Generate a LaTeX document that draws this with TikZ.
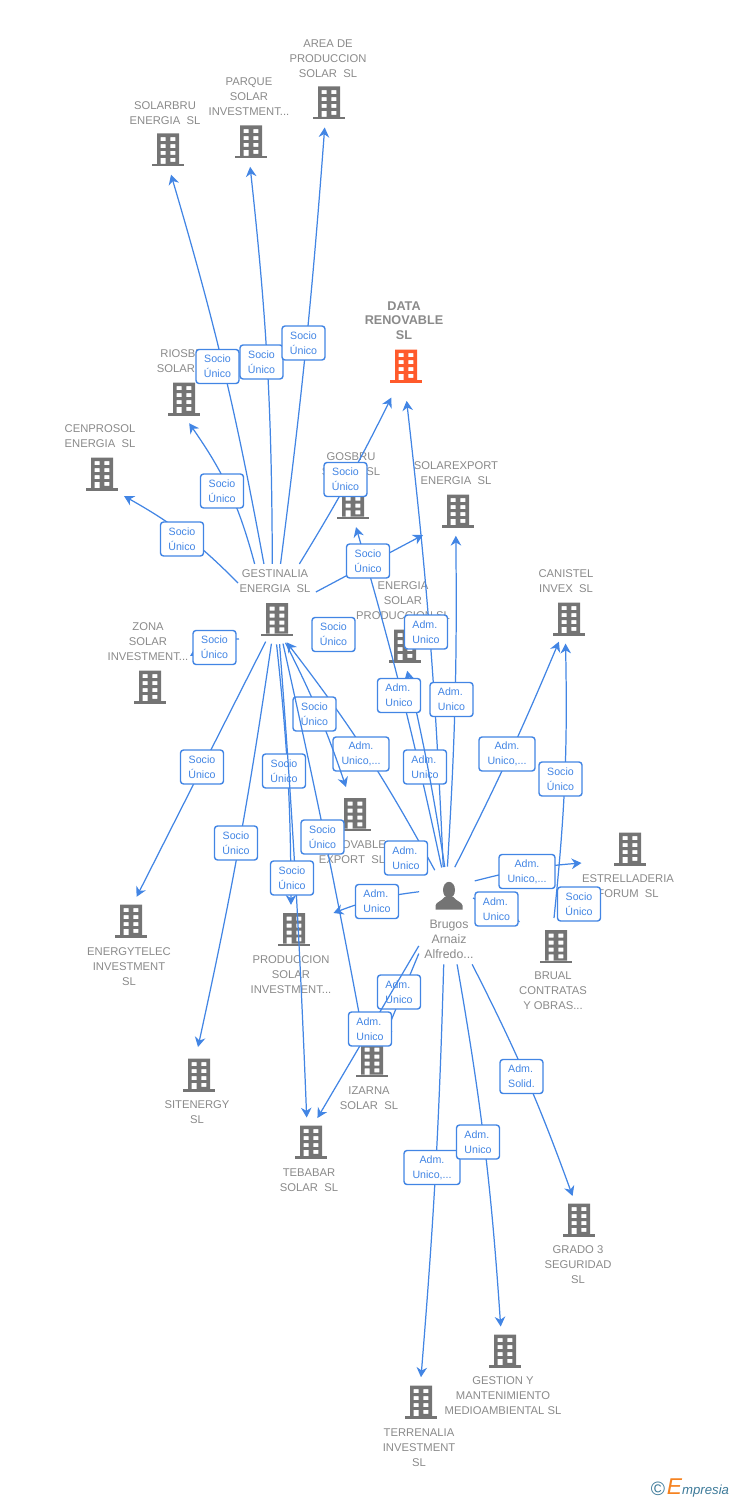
\documentclass[tikz,border=0pt]{standalone}
\usepackage{fontspec}
\setmainfont{Liberation Sans}
\usetikzlibrary{arrows.meta}
\definecolor{linkblue}{HTML}{4285E4}
\definecolor{iconcol}{HTML}{747474}
\definecolor{maincol}{HTML}{FF5A2B}
\definecolor{textcol}{HTML}{8A8A8A}
\definecolor{logoblue}{HTML}{3D7A99}
\definecolor{logoorange}{HTML}{F58220}
\newcommand{\bldgicon}[1]{%
    \begin{scope}[shift={(path picture bounding box.center)}]
    \fill[#1,even odd rule] (-11,-16.5) rectangle (11,14)
        (-7.5,-12.8) rectangle (-2.5,-8.8) (2.3,-12.8) rectangle (7.3,-8.8)
        (-7.5,-5.8) rectangle (-2.5,-1.8) (2.3,-5.8) rectangle (7.3,-1.8)
        (-7.5,1) rectangle (-2.5,5) (2.3,1) rectangle (7.3,5)
        (-7.5,7.8) rectangle (-2.5,14) (2.3,7.8) rectangle (7.3,11.8);
    \fill[#1] (-16,14) rectangle (16,16.5);
    \end{scope}}
\newcommand{\personicon}{%
    \begin{scope}[shift={(path picture bounding box.center)}]
    \fill[iconcol] (0,-7) ellipse (6 and 8.2);
    \fill[iconcol] (-13.5,12.5) -- (13.5,12.5) -- (13.5,8.5) .. controls (13,5) and (7,4) .. (4.5,0)
        -- (-4.5,0) .. controls (-7,4) and (-13,5) .. (-13.5,8.5) -- cycle;
    \end{scope}}
\tikzset{
    bldg/.style={circle,inner sep=0pt,minimum size=0.98cm,path picture={\bldgicon{#1}}},
    bldg/.default=iconcol,
    person/.style={circle,inner sep=0pt,minimum size=1.2cm,path picture={\personicon}},
    lbl/.style={text=textcol,align=center,inner sep=3pt,font=\fontsize{6.4}{8.5}\selectfont},
    mainlbl/.style={lbl,font=\fontsize{7.2}{8.5}\selectfont\bfseries},
    perslbl/.style={lbl,font=\fontsize{7}{8.5}\selectfont},
    link/.style={linkblue,line width=0.7pt,-{Stealth[length=5.6pt,width=6pt,inset=1.8pt]}},
    sbox/.style={draw=linkblue,fill=white,rounded corners=1.7pt,line width=0.8pt,text=linkblue,
        inner sep=0pt,minimum width=0.86cm,minimum height=0.68cm,align=center,
        font=\fontsize{6.05}{8.5}\selectfont},
    abox/.style={sbox,align=left},
    wbox/.style={sbox,minimum width=1.12cm},
}
\begin{document}
\begin{tikzpicture}[x=0.02cm,y=-0.02cm]
    \useasboundingbox (0,0) rectangle (728,1500);
    % companies
    \node[bldg] (area) at (329,103) {};
    \node[bldg] (parque) at (251,142) {};
    \node[bldg] (solarbru) at (168,150) {};
    \node[bldg] (riosbru) at (184,399) {};
    \node[bldg] (cenprosol) at (102,474) {};
    \node[bldg=maincol,minimum size=1.38cm] (data) at (406,366) {};
    \node[bldg] (gosbru) at (353,502.5) {};
    \node[bldg] (solarexport) at (458,511) {};
    \node[bldg] (gestinalia) at (277,619.5) {};
    \node[bldg] (energia) at (405,646) {};
    \node[bldg] (canistel) at (569,619) {};
    \node[bldg] (zona) at (150,687) {};
    \node[bldg] (renovable) at (355,814.5) {};
    \node[bldg] (estrelladeria) at (630,849) {};
    \node[bldg] (brual) at (556,946.5) {};
    \node[bldg] (energytelec) at (131,921) {};
    \node[bldg] (produccion) at (294,929.5) {};
    \node[bldg] (sitenergy) at (199,1075) {};
    \node[bldg] (izarna) at (372,1060.5) {};
    \node[bldg] (tebabar) at (311,1142) {};
    \node[bldg] (grado) at (579,1220) {};
    \node[bldg] (gestion) at (505,1351) {};
    \node[bldg] (terrenalia) at (421,1402) {};
    \node[person] (brugos) at (449,897) {};
    % names
    \node[lbl] (arealbl) at (328,58.7) {AREA DE\\PRODUCCION\\SOLAR~~SL};
    \node[lbl] (parquelbl) at (249,96.7) {PARQUE\\SOLAR\\INVESTMENT...};
    \node[lbl] (solarbrulbl) at (165,113.2) {SOLARBRU\\ENERGIA~~SL};
    \node[lbl] (riosbrulbl) at (186,361.2) {RIOSBRU\\SOLAR~~SL};
    \node[lbl] (cenprosollbl) at (100,436.2) {CENPROSOL\\ENERGIA~~SL};
    \node[mainlbl] (datalbl) at (404,320.7) {DATA\\RENOVABLE\\SL};
    \node[lbl] (gosbrulbl) at (351,464.2) {GOSBRU\\SOLAR~~SL};
    \node[lbl] (solarexportlbl) at (456,473.2) {SOLAREXPORT\\ENERGIA~~SL};
    \node[lbl] (gestinalialbl) at (275,581) {GESTINALIA\\ENERGIA~~SL};
    \node[lbl] (energialbl) at (403,600.7) {ENERGIA\\SOLAR\\PRODUCCION SL};
    \node[lbl] (canistellbl) at (566,581.2) {CANISTEL\\INVEX~~SL};
    \node[lbl] (zonalbl) at (148,641.7) {ZONA\\SOLAR\\INVESTMENT...};
    \node[lbl] (renovablelbl) at (352,852.2) {RENOVABLE\\EXPORT~~SL};
    \node[lbl] (estrelladerialbl) at (628,886.2) {ESTRELLADERIA\\FORUM~~SL};
    \node[perslbl] (brugoslbl) at (449,939.5) {Brugos\\Arnaiz\\Alfredo...};
    \node[lbl] (bruallbl) at (553,990.7) {BRUAL\\CONTRATAS\\Y OBRAS...};
    \node[lbl] (energyteleclbl) at (129,966.7) {ENERGYTELEC\\INVESTMENT\\SL};
    \node[lbl] (produccionlbl) at (291,974.7) {PRODUCCION\\SOLAR\\INVESTMENT...};
    \node[lbl] (sitenergylbl) at (197,1112.2) {SITENERGY\\SL};
    \node[lbl] (izarnalbl) at (369,1098.2) {IZARNA\\SOLAR~~SL};
    \node[lbl] (tebabarlbl) at (309,1180.2) {TEBABAR\\SOLAR~~SL};
    \node[lbl] (gradolbl) at (578,1264.7) {GRADO 3\\SEGURIDAD\\SL};
    \node[lbl] (gestionlbl) at (503,1395.7) {GESTION Y\\MANTENIMIENTO\\MEDIOAMBIENTAL SL};
    \node[lbl] (terrenalialbl) at (419,1447.7) {TERRENALIA\\INVESTMENT\\SL};
    % free ends
    \coordinate (cenprosoltip) at (124,496);
    \coordinate (solarexporttip) at (423,535);
    \coordinate (zonastart) at (239,639);
    \coordinate (zonatip) at (190,656);
    \coordinate (renovabletip) at (346,787);
    \coordinate (sitenergytip) at (198,1047);
    \coordinate (estrelladeriatip) at (581.5,863);
    \coordinate (producciontip) at (333.5,913);
    \coordinate (brualtop) at (554,918);
    \coordinate (brualtip) at (520,922);
    \coordinate (brugosside) at (473,898);
    \coordinate (cenprosolstart) at (238,583);
    % links, each with its box
    \draw[link] (gestinalialbl.123) to[bend right=3] (solarbru.-83);
    \node[sbox] (b1) at (217.5,366.5) {Socio\\Único};
    \draw[link] (gestinalialbl.99) to[bend right=3] (parque.-92);
    \node[sbox] (b2) at (261.5,362) {Socio\\Único};
    \draw[link] (gestinalialbl.72) to[bend right=1.5] (area.-100);
    \node[sbox] (b3) at (303.5,343) {Socio\\Único};
    \draw[link] (gestinalialbl.140) to[bend right=10] (riosbru.-78);
    \node[sbox] (b4) at (222,491) {Socio\\Único};
    \draw[link] (cenprosolstart) to[bend right=8] (cenprosoltip);
    \node[sbox] (b5) at (182,539) {Socio\\Único};
    \draw[link] (gestinalialbl.35) to[bend right=2.5] (data.-115);
    \node[sbox] (b6) at (345.5,479.5) {Socio\\Único};
    \draw[link] (brugos.101) to[bend right=2] (data.-89);
    \node[abox] (b7) at (426,632) {Adm.\\Unico};
    \draw[link] (brugos.93) to[bend right=2] (solarexport.-95);
    \node[abox] (b8) at (451.5,699.5) {Adm.\\Unico};
    \draw[link] (brugos.104) to[bend right=2] (gosbru.-83);
    \node[abox] (b9) at (425,767) {Adm.\\Unico};
    \draw[link] (brugos.98) to[bend right=2] (energia.-85);
    \node[abox] (b10) at (399,695.5) {Adm.\\Unico};
    \draw[link] (gestinalialbl.-15) -- (solarexporttip);
    \node[sbox] (b11) at (368,561) {Socio\\Único};
    \draw[link] (zonastart) to[out=180,in=30] (zonatip);
    \node[sbox] (b12) at (214.5,647.5) {Socio\\Único};
    \node[sbox] (b13) at (333.5,634.5) {Socio\\Único};
    \draw[link] (gestinalia.-117) -- (energytelec.77);
    \node[sbox] (b14) at (202,767) {Socio\\Único};
    \draw[link] (gestinalia.-103) to[bend left=2] (sitenergytip);
    \node[sbox] (b15) at (236,843) {Socio\\Único};
    \draw[link] (gestinalia.-91) to[bend left=3] (produccion.97);
    \node[sbox] (b16) at (284,771) {Socio\\Único};
    \draw[link] (brugos.118) to[bend right=4.5] (gestinalia.-67);
    \node[wbox] (b17) at (361,754) {Adm.\\Unico,...};
    \node[abox] (b18) at (406,858) {Adm.\\Unico};
    \draw[link] (gestinalia.-70) to[bend left=4] (renovabletip);
    \node[sbox] (b19) at (314.5,714) {Socio\\Único};
    \draw[link] (gestinalia.-76) to[bend left=1] (izarna.110);
    \node[sbox] (b20) at (322.5,837) {Socio\\Único};
    \draw[link] (gestinalia.-84) to[bend left=1] (tebabar.100);
    \node[sbox] (b21) at (292,878) {Socio\\Único};
    \draw[link] (brugos.170) to[bend right=7] (producciontip);
    \node[abox] (b22) at (377,901.5) {Adm.\\Unico};
    \draw[link] (brugosside) -- (brualtip);
    \node[abox] (b23) at (496.5,909) {Adm.\\Unico};
    \draw[link] (brugos.32) to[bend left=5] (estrelladeriatip);
    \node[wbox] (b24) at (527,871.5) {Adm.\\Unico,...};
    \draw[link] (brualtop) to[bend right=3.5] (canistel.-98);
    \node[sbox] (b25) at (560.5,779) {Socio\\Único};
    \node[sbox] (b26) at (579,904) {Socio\\Único};
    \draw[link] (brugos.79) to[bend right=2] (canistel.-114);
    \node[wbox] (b27) at (507,754) {Adm.\\Unico,...};
    \draw[link] (brugoslbl.205) -- (izarna.62);
    \node[abox] (b28) at (399,992) {Adm.\\Unico};
    \draw[link] (brugoslbl.192) -- (tebabar.75);
    \node[abox] (b29) at (370,1029) {Adm.\\Unico};
    \draw[link] (brugoslbl.-102) to[bend left=1.5] (terrenalia.90);
    \node[wbox] (b30) at (432,1167.5) {Adm.\\Unico,...};
    \draw[link] (brugoslbl.-72) to[bend left=3] (gestion.100);
    \node[abox] (b31) at (478,1142) {Adm.\\Unico};
    \draw[link] (brugoslbl.-47) to[bend left=3.5] (grado.105);
    \node[abox] (b32) at (521.5,1076.5) {Adm.\\Solid.};
    % logo
    \node[text=logoblue,inner sep=0pt,font=\fontsize{11}{11}\selectfont] (copy) at (658,1489) {©};
    \node[text=logoblue,inner sep=0pt,font=\fontsize{7.5}{9}\selectfont\itshape] (logo) at (698,1488)
        {\textcolor{logoorange}{\fontsize{13}{9}\selectfont E}mpresia};
\end{tikzpicture}
\end{document}
